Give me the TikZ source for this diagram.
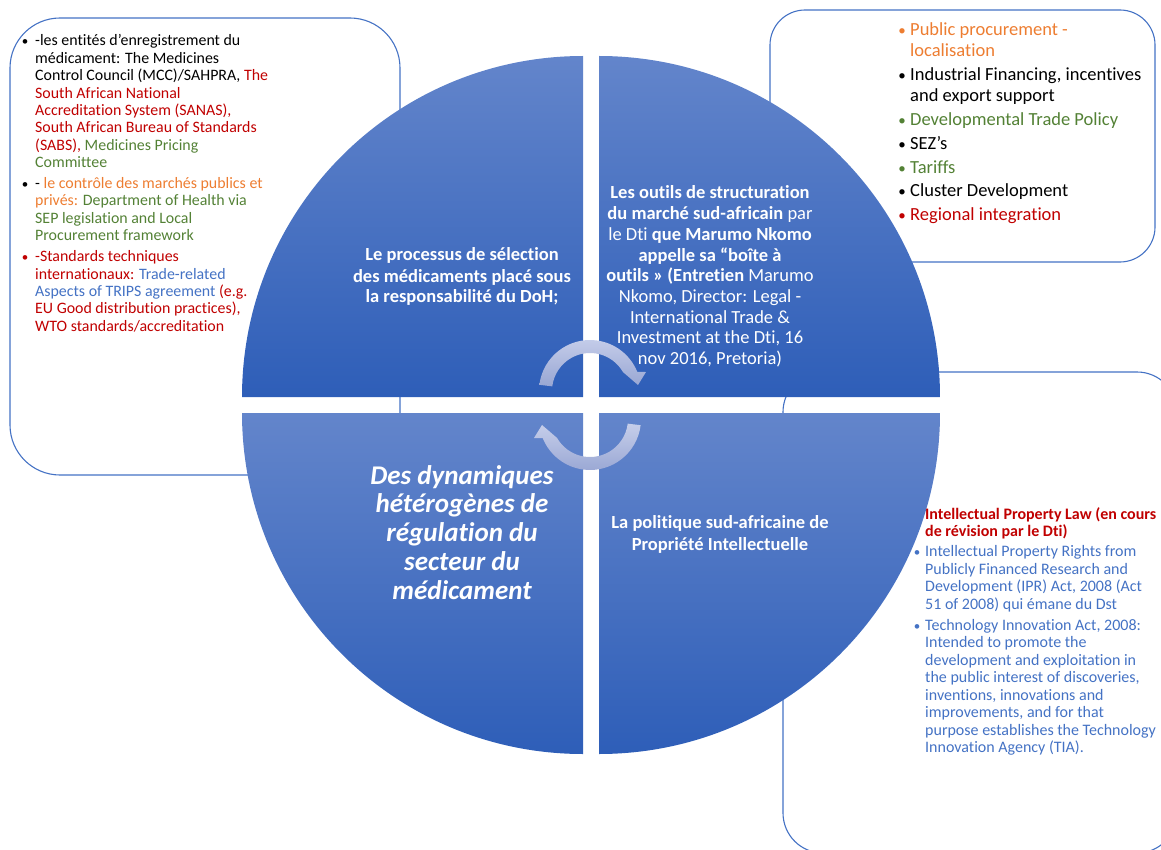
\documentclass[tikz,border=0pt]{standalone}
\usepackage{fontspec}
\setmainfont{Carlito}[RawFeature={-liga;-clig;-calt;-dlig}]
\definecolor{boxblue}{HTML}{4472C4}
\definecolor{tred}{HTML}{C00000}
\definecolor{tgreen}{HTML}{538135}
\definecolor{torange}{HTML}{ED7D31}
\definecolor{tblue}{HTML}{4472C4}
\definecolor{qtop}{RGB}{99,133,203}
\definecolor{qbot}{RGB}{46,94,184}
\definecolor{atop}{RGB}{198,206,234}
\definecolor{abot}{RGB}{152,166,211}
\begin{document}
\begin{tikzpicture}[x=1pt,y=1pt,
  frame/.style={draw=boxblue, line width=1.1pt},
  quarter/.style={top color=qtop, bottom color=qbot},
  circarrow/.style={top color=atop, bottom color=abot},
  ltxt/.style={anchor=base west, inner sep=0pt, font=\fontsize{15.9}{17.4}\selectfont},
  rtxt/.style={anchor=base west, inner sep=0pt, font=\fontsize{18.5}{20.7}\selectfont},
  btxt/.style={anchor=base west, inner sep=0pt, font=\fontsize{16}{17.5}\selectfont},
  bul/.style={anchor=base, inner sep=0pt},
  ctxt/.style={anchor=base, inner sep=0pt, text=white, font=\fontsize{18.5}{21}\selectfont},
  bigtxt/.style={anchor=base, inner sep=0pt, text=white, font=\fontsize{27}{28.8}\selectfont\bfseries\itshape}]
\useasboundingbox (0,0) rectangle (1161,-850);
\clip (0,0) rectangle (1161,-850);

% frames
\draw[frame, rounded corners=50pt] (10,-18) rectangle (400,-475);
\draw[frame, rounded corners=35pt] (770,-10) rectangle (1155,-262);
\draw[frame, rounded corners=40pt] (783,-372) rectangle (1177,-853);

% quarters
\shade[quarter] (583,-397) -- (242,-397) arc[start angle=180,end angle=90,radius=341] -- cycle;
\shade[quarter] (599,-397) -- (599,-56) arc[start angle=90,end angle=0,radius=341] -- cycle;
\shade[quarter] (583,-413) -- (242,-413) arc[start angle=180,end angle=270,radius=341] -- cycle;
\shade[quarter] (599,-413) -- (940,-413) arc[start angle=0,end angle=-90,radius=341] -- cycle;

% circular arrows
\begin{scope}[shift={(590,-391)}]
\shade[circarrow] (173:51) arc[start angle=173,end angle=21.9,radius=51] -- (56,19) -- (48,6) -- (30:38) arc[start angle=30,end angle=173,radius=38] -- cycle;
\end{scope}
\begin{scope}[shift={(590,-419)}]
\shade[circarrow] (353:51) arc[start angle=353,end angle=201.9,radius=51] -- (-56,-19) -- (-48,-6) -- (210:38) arc[start angle=210,end angle=353,radius=38] -- cycle;
\end{scope}

% circle texts
\node[ctxt] (tl) at (462,-261) {\bfseries\begin{tabular}[t]{@{}c@{}}Le processus de sélection\\des médicaments placé sous\\la responsabilité du DoH;\end{tabular}};
\node[ctxt, font=\fontsize{18.5}{20.7}\selectfont] (tr) at (710,-199) {\begin{tabular}[t]{@{}c@{}}\textbf{Les outils de structuration}\\\textbf{du marché sud-africain} par\\le Dti \textbf{que Marumo Nkomo}\\\textbf{appelle sa “boîte à}\\\textbf{outils » (Entretien} Marumo\\Nkomo, Director: Legal -\\International Trade \&\\Investment at the Dti, 16\\nov 2016, Pretoria)\end{tabular}};
\node[bigtxt] (bl) at (462,-484) {\begin{tabular}[t]{@{}c@{}}Des dynamiques\\hétérogènes de\\régulation du\\secteur du\\médicament\end{tabular}};
\node[ctxt, font=\fontsize{18.5}{22}\selectfont\bfseries] (br) at (720,-528) {\begin{tabular}[t]{@{}c@{}}La politique sud-africaine de\\Propriété Intellectuelle\end{tabular}};

% left box
\node[bul, font=\fontsize{13}{17.4}\selectfont] (lb1) at (25,-46) {•};
\node[ltxt] (l1) at (35,-46) {\begin{tabular}[t]{@{}l@{}}-les entités d’enregistrement du\\médicament: The Medicines\\Control Council (MCC)/SAHPRA, \textcolor{tred}{The}\\\textcolor{tred}{South African National}\\\textcolor{tred}{Accreditation System (SANAS),}\\\textcolor{tred}{South African Bureau of Standards}\\\textcolor{tred}{(SABS),} \textcolor{tgreen}{Medicines Pricing}\\\textcolor{tgreen}{Committee}\end{tabular}};
\node[bul, font=\fontsize{13}{17.4}\selectfont] (lb2) at (25,-188.5) {•};
\node[ltxt] (l2) at (35,-188.5) {\begin{tabular}[t]{@{}l@{}}- \textcolor{torange}{le contrôle des marchés publics et}\\\textcolor{torange}{privés:} \textcolor{tgreen}{Department of Health via}\\\textcolor{tgreen}{SEP legislation and Local}\\\textcolor{tgreen}{Procurement framework}\end{tabular}};
\node[bul, text=tred, font=\fontsize{13}{17.4}\selectfont] (lb3) at (25,-261.7) {•};
\node[ltxt, text=tred] (l3) at (35,-261.7) {\begin{tabular}[t]{@{}l@{}}-Standards techniques\\internationaux: \textcolor{tblue}{Trade-related}\\\textcolor{tblue}{Aspects of TRIPS agreement} (e.g.\\EU Good distribution practices),\\WTO standards/accreditation\end{tabular}};

% top-right box
\node[bul, text=torange, font=\fontsize{15}{20.7}\selectfont] (rb1) at (902,-36) {•};
\node[rtxt, text=torange] (r1) at (910,-36) {\begin{tabular}[t]{@{}l@{}}Public procurement -\\localisation\end{tabular}};
\node[bul, font=\fontsize{15}{20.7}\selectfont] (rb2) at (902,-81) {•};
\node[rtxt] (r2) at (910,-81) {\begin{tabular}[t]{@{}l@{}}Industrial Financing, incentives\\and export support\end{tabular}};
\node[bul, text=tgreen, font=\fontsize{15}{20.7}\selectfont] (rb3) at (902,-126) {•};
\node[rtxt, text=tgreen] (r3) at (910,-126) {Developmental Trade Policy};
\node[bul, font=\fontsize{15}{20.7}\selectfont] (rb4) at (902,-149.5) {•};
\node[rtxt] (r4) at (910,-149.5) {SEZ’s};
\node[bul, text=tgreen, font=\fontsize{15}{20.7}\selectfont] (rb5) at (902,-173.2) {•};
\node[rtxt, text=tgreen] (r5) at (910,-173.2) {Tariffs};
\node[bul, font=\fontsize{15}{20.7}\selectfont] (rb6) at (902,-196.9) {•};
\node[rtxt] (r6) at (910,-196.9) {Cluster Development};
\node[bul, text=tred, font=\fontsize{15}{20.7}\selectfont] (rb7) at (902,-220.6) {•};
\node[rtxt, text=tred] (r7) at (910,-220.6) {Regional integration};

% bottom-right box
\node[btxt, text=tred, font=\fontsize{16}{17.5}\selectfont\bfseries] (bh) at (925,-519.3) {\begin{tabular}[t]{@{}l@{}}Intellectual Property Law (en cours\\de révision par le Dti)\end{tabular}};
\node[bul, text=tblue, font=\fontsize{13}{17.5}\selectfont] (bb1) at (917,-556.7) {•};
\node[btxt, text=tblue] (b1) at (925,-556.7) {\begin{tabular}[t]{@{}l@{}}Intellectual Property Rights from\\Publicly Financed Research and\\Development (IPR) Act, 2008 (Act\\51 of 2008) qui émane du Dst\end{tabular}};
\node[bul, text=tblue, font=\fontsize{13}{17.5}\selectfont] (bb2) at (917,-630) {•};
\node[btxt, text=tblue] (b2) at (925,-630) {\begin{tabular}[t]{@{}l@{}}Technology Innovation Act, 2008:\\Intended to promote the\\development and exploitation in\\the public interest of discoveries,\\inventions, innovations and\\improvements, and for that\\purpose establishes the Technology\\Innovation Agency (TIA).\end{tabular}};
\end{tikzpicture}
\end{document}
